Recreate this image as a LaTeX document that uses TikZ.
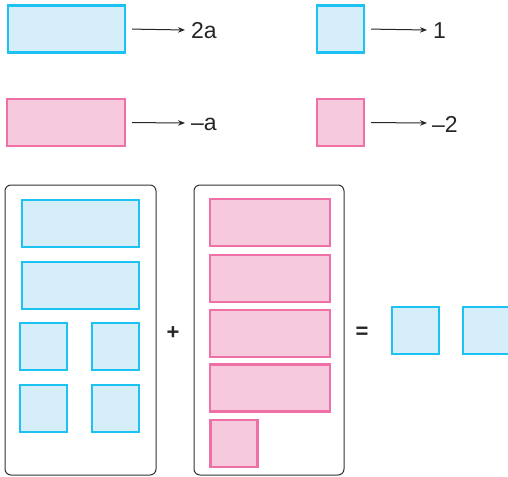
\documentclass[tikz,border=0pt]{standalone}
\usepackage{fontspec}
\setmainfont{Liberation Sans}
\usetikzlibrary{arrows.meta}
\definecolor{bstroke}{HTML}{1CC2F2}
\definecolor{bfill}{HTML}{D6EEFA}
\definecolor{pstroke}{HTML}{EE70A6}
\definecolor{pfill}{HTML}{F6C9DD}
\definecolor{framec}{HTML}{333333}
\tikzset{
  tile/.style={draw, rectangle, inner sep=0pt, line width=2.2pt},
  bluetile/.style={tile, draw=bstroke, fill=bfill},
  pinktile/.style={tile, draw=pstroke, fill=pfill},
  longtile/.style={minimum width=#1, minimum height=47pt},
  sqtile/.style={minimum width=47pt, minimum height=47pt},
  frame/.style={draw=framec, line width=1pt, rounded corners=6pt},
  lbl/.style={anchor=west, inner sep=0pt, font=\fontsize{23}{25}\selectfont, text=black!85},
  op/.style={inner sep=0pt, font=\fontsize{22}{24}\selectfont\bfseries, text=black!85},
  arr/.style={draw=black!85, line width=1pt, -{Stealth[length=7pt,width=5.5pt]}, shorten <=6pt, shorten >=0pt}
}
\begin{document}
\begin{tikzpicture}[x=1pt,y=-1pt]
\useasboundingbox (0,0) rectangle (508,476);
% legend
\node[bluetile, longtile=117pt] (b1) at (66.5,29) {};
\node[bluetile, sqtile] (b2) at (340.5,29) {};
\node[pinktile, longtile=118pt] (p1) at (66,122.5) {};
\node[pinktile, sqtile] (p2) at (340.5,122.5) {};
\node[lbl] (l1) at (191,31) {2a};
\node[lbl] (l2) at (433,31) {1};
\node[lbl] (l3) at (191,124) {–a};
\node[lbl] (l4) at (432,124) {–2};
\coordinate (e1) at (185,30);
\coordinate (e2) at (427,30);
\coordinate (e3) at (185,123);
\coordinate (e4) at (427,123);
\draw[arr] (b1.east) -- (e1);
\draw[arr] (b2.east) -- (e2);
\draw[arr] (p1.east) -- (e3);
\draw[arr] (p2.east) -- (e4);
% frames
\draw[frame] (5,185) rectangle (156,475);
\draw[frame] (194,185) rectangle (344,475);
% left frame contents
\node[bluetile, longtile=117pt] (lb1) at (80.5,223.5) {};
\node[bluetile, longtile=117pt] (lb2) at (80.5,285.5) {};
\node[bluetile, sqtile] (ls1) at (43.5,346.5) {};
\node[bluetile, sqtile] (ls2) at (115.5,346.5) {};
\node[bluetile, sqtile] (ls3) at (43.5,408.5) {};
\node[bluetile, sqtile] (ls4) at (115.5,408.5) {};
% right frame contents
\node[pinktile, longtile=120pt] (rp1) at (270,222.5) {};
\node[pinktile, longtile=120pt] (rp2) at (270,278.5) {};
\node[pinktile, longtile=120pt] (rp3) at (270,333.5) {};
\node[pinktile, longtile=120pt] (rp4) at (270,388) {};
\node[pinktile, sqtile] (rs1) at (234,443.5) {};
% operators
\node[op] (plus) at (173,333) {+};
\node[op] (eq) at (362,333) {=};
% result
\node[bluetile, sqtile] (res1) at (415.5,330.5) {};
\node[bluetile, sqtile] (res2) at (486.5,330.5) {};
\end{tikzpicture}
\end{document}
